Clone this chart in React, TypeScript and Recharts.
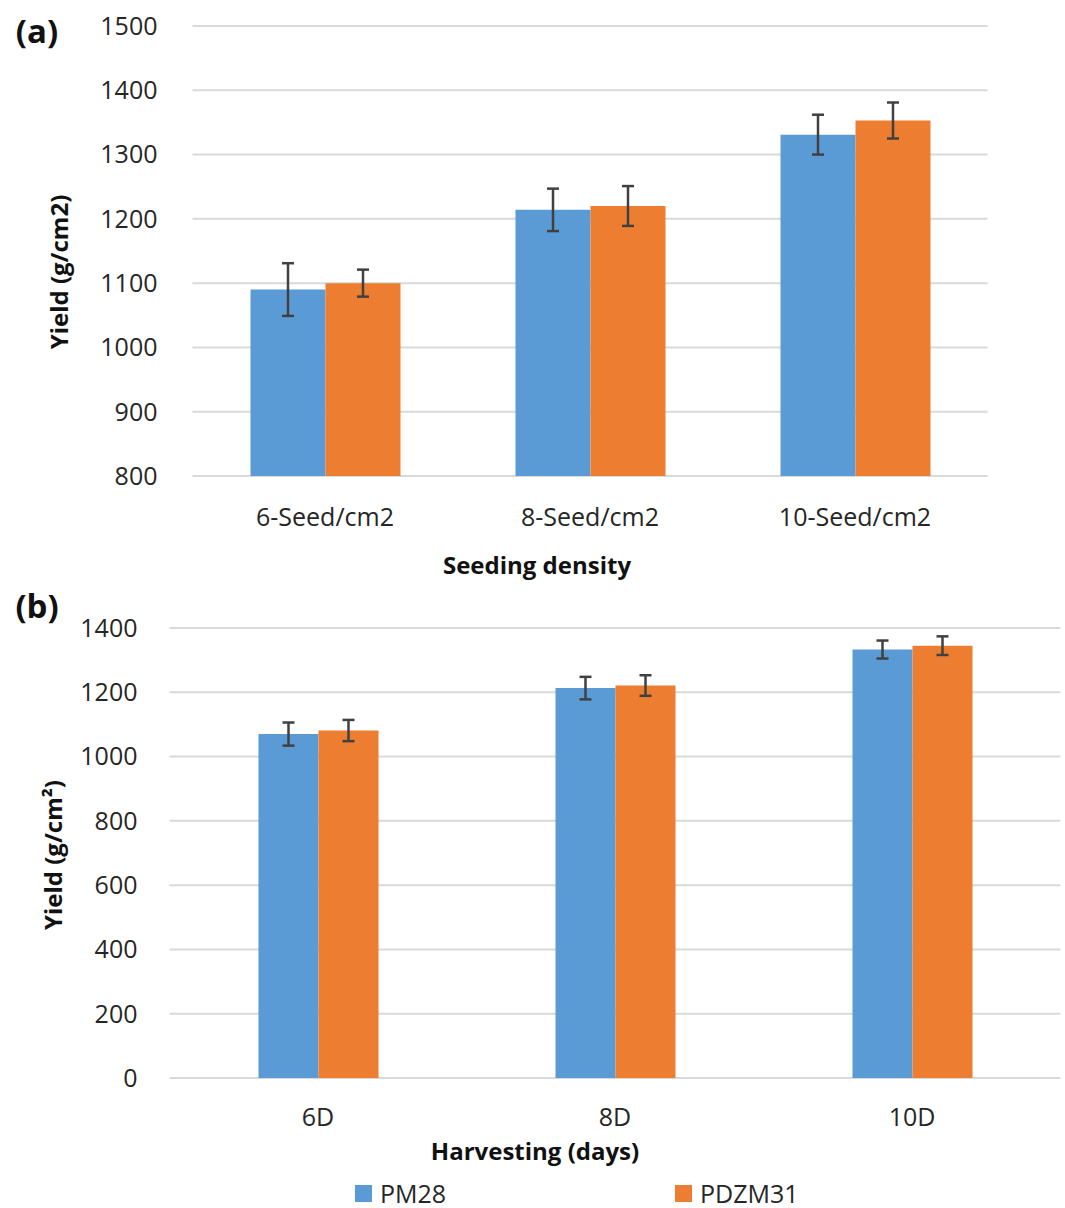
import React from "react";
import { BarChart, Bar, XAxis, YAxis, CartesianGrid, ErrorBar, Legend } from "recharts";

const seriesNames = ["PM28", "PDZM31"];

const densityLabels = ["6-Seed/cm2", "8-Seed/cm2", "10-Seed/cm2"];
const densityPM28 = [1090, 1214, 1331];
const densityPDZM31 = [1100, 1220, 1353];
const densityPM28Err = [41, 33, 31];
const densityPDZM31Err = [21, 31, 28];
const densityTicks = [800, 900, 1000, 1100, 1200, 1300, 1400, 1500];

const harvestLabels = ["6D", "8D", "10D"];
const harvestPM28 = [1070, 1213, 1333];
const harvestPDZM31 = [1081, 1221, 1345];
const harvestPM28Err = [36, 35, 28];
const harvestPDZM31Err = [33, 32, 29];
const harvestTicks = [0, 200, 400, 600, 800, 1000, 1200, 1400];

const FONT = "'Open Sans', sans-serif";
const BLUE = "#5B9BD5";
const ORANGE = "#ED7D31";
const GRID = "#d9d9d9";
const TEXT = "#262626";
const ERR = "#404040";

const densityData = densityLabels.map((name, i) => ({
  name,
  pm28: densityPM28[i],
  pdzm31: densityPDZM31[i],
  pm28Err: densityPM28Err[i],
  pdzm31Err: densityPDZM31Err[i],
}));

const harvestData = harvestLabels.map((name, i) => ({
  name,
  pm28: harvestPM28[i],
  pdzm31: harvestPDZM31[i],
  pm28Err: harvestPM28Err[i],
  pdzm31Err: harvestPDZM31Err[i],
}));

const tickStyle = { fontSize: 25, fill: TEXT, fontFamily: FONT };

// legend items kept in series order, placed like the original (wide spacing)
const renderLegend = (props: any) => {
  const items = [...(props.payload || [])].sort(
    (a: any, b: any) => seriesNames.indexOf(a.value) - seriesNames.indexOf(b.value)
  );
  const starts = [355, 675];
  return (
    <div style={{ position: "relative", height: 30, width: 1060 }}>
      {items.map((it: any, i: number) => (
        <div
          key={it.value}
          style={{
            position: "absolute",
            left: starts[i],
            top: 0,
            height: 30,
            display: "flex",
            alignItems: "center",
            fontFamily: FONT,
            fontSize: 25,
            color: TEXT,
          }}
        >
          <span style={{ display: "inline-block", width: 17, height: 17, background: it.color, marginRight: 8 }} />
          {it.value}
        </div>
      ))}
    </div>
  );
};

const title = (text: string, x: number, y: number, size: number, rotate = false) => (
  <div
    style={{
      position: "absolute",
      left: x,
      top: y,
      transform: `translate(-50%, -50%)${rotate ? " rotate(-90deg)" : ""}`,
      whiteSpace: "nowrap",
      fontFamily: FONT,
      fontWeight: 700,
      fontSize: size,
      color: "#111",
    }}
  >
    {text}
  </div>
);

export default function App() {
  return (
    <div style={{ position: "absolute", left: 0, top: 0, width: 1065, height: 1208, background: "#fff" }}>
      <div style={{ position: "absolute", left: 0, top: 0 }}>
        <BarChart
          width={1065}
          height={590}
          data={densityData}
          margin={{ top: 26, right: 77.5, bottom: 54, left: 0 }}
          barGap={0}
          barSize={75}
        >
          <CartesianGrid vertical={false} stroke={GRID} strokeWidth={2} />
          <XAxis
            dataKey="name"
            height={60}
            axisLine={false}
            tickLine={false}
            tickSize={0}
            tickMargin={32}
            tick={tickStyle}
          />
          <YAxis
            width={192.5}
            domain={[800, 1500]}
            ticks={densityTicks}
            axisLine={false}
            tickLine={false}
            tickSize={0}
            tickMargin={35}
            tick={tickStyle}
          />
          <Bar dataKey="pm28" name={seriesNames[0]} fill={BLUE} isAnimationActive={false}>
            <ErrorBar dataKey="pm28Err" width={6} strokeWidth={2.5} stroke={ERR} />
          </Bar>
          <Bar dataKey="pdzm31" name={seriesNames[1]} fill={ORANGE} isAnimationActive={false}>
            <ErrorBar dataKey="pdzm31Err" width={6} strokeWidth={2.5} stroke={ERR} />
          </Bar>
        </BarChart>
      </div>

      <div style={{ position: "absolute", left: 0, top: 590 }}>
        <BarChart
          width={1065}
          height={618}
          data={harvestData}
          margin={{ top: 38, right: 4.5, bottom: 0, left: 0 }}
          barGap={0}
          barSize={60}
        >
          <CartesianGrid vertical={false} stroke={GRID} strokeWidth={2} />
          <XAxis
            dataKey="name"
            height={100}
            axisLine={false}
            tickLine={false}
            tickSize={0}
            tickMargin={30}
            tick={tickStyle}
          />
          <YAxis
            width={169.5}
            domain={[0, 1400]}
            ticks={harvestTicks}
            axisLine={false}
            tickLine={false}
            tickSize={0}
            tickMargin={32}
            tick={tickStyle}
          />
          <Legend verticalAlign="bottom" content={renderLegend} />
          <Bar dataKey="pm28" name={seriesNames[0]} fill={BLUE} isAnimationActive={false}>
            <ErrorBar dataKey="pm28Err" width={6} strokeWidth={2.5} stroke={ERR} />
          </Bar>
          <Bar dataKey="pdzm31" name={seriesNames[1]} fill={ORANGE} isAnimationActive={false}>
            <ErrorBar dataKey="pdzm31Err" width={6} strokeWidth={2.5} stroke={ERR} />
          </Bar>
        </BarChart>
      </div>

      {title("(a)", 37, 30, 33)}
      {title("(b)", 37, 605, 33)}
      {title("Yield (g/cm2)", 58, 272, 24, true)}
      {title("Yield (g/cm²)", 52, 855, 24, true)}
      {title("Seeding density", 537, 564, 24)}
      {title("Harvesting (days)", 535, 1150, 24)}
    </div>
  );
}
